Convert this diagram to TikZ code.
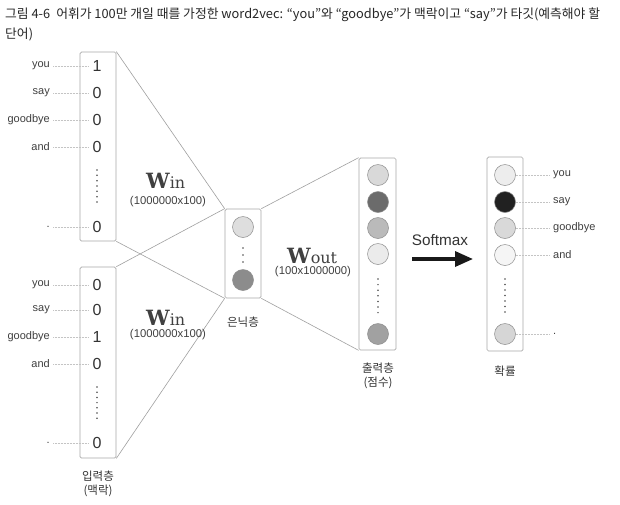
\documentclass[tikz,border=0pt]{standalone}
\usepackage{fontspec}
\setmainfont{Liberation Sans}
\newfontfamily\krfont{Noto Sans CJK KR}
\newfontfamily\wfont{DejaVu Serif}
\usetikzlibrary{arrows.meta}
\definecolor{boxline}{HTML}{A8A8A8}
\definecolor{conline}{HTML}{A0A0A0}
\definecolor{dotline}{HTML}{C4C4C4}
\tikzset{
  vecbox/.style={draw=boxline, line width=0.7pt, rounded corners=1.5pt, inner sep=0pt},
  conn/.style={draw=conline, line width=0.6pt},
  guide/.style={draw=dotline, line width=0.5pt, densely dotted},
  num/.style={font=\fontsize{16}{16}\selectfont, text=black!80, inner sep=0pt},
  wlab/.style={font=\fontsize{11}{11}\selectfont, text=black!75, inner sep=1pt},
  dimlab/.style={font=\fontsize{11.3}{11}\selectfont, text=black!75, inner sep=0pt},
  krlab/.style={font=\krfont\fontsize{11.5}{13.5}\selectfont, text=black!80, inner sep=0pt, align=center},
  neuron/.style={circle, draw=black!45, line width=0.5pt, minimum size=21pt, inner sep=0pt},
  wnode/.style={inner sep=0pt, anchor=base west, text=black!75},
  dotc/.style={fill=black!70}
}
\newcommand{\wmat}[1]{{\wfont\bfseries\fontsize{21}{21}\selectfont W}{\wfont\fontsize{16}{16}\selectfont #1}}
\begin{document}
\begin{tikzpicture}[x=1pt,y=-1pt]
\useasboundingbox[fill=white] (0,0) rectangle (620,504);

% title
\node[anchor=west, font=\krfont\fontsize{12.8}{14}\selectfont, text=black!85, inner sep=0pt] (title1) at (5,15) {그림 4-6\hspace{6pt}어휘가 100만 개일 때를 가정한 word2vec: “you”와 “goodbye”가 맥락이고 “say”가 타깃(예측해야 할};
\node[anchor=west, font=\krfont\fontsize{12.8}{14}\selectfont, text=black!85, inner sep=0pt] (title2) at (5,34) {단어)};

% boxes
\node[vecbox, minimum width=36pt, minimum height=189pt] (inA) at (98,146.5) {};
\node[vecbox, minimum width=36pt, minimum height=191pt] (inB) at (98,362.5) {};
\node[vecbox, minimum width=36pt, minimum height=89pt] (hid) at (243,253.5) {};
\node[vecbox, minimum width=37pt, minimum height=192pt] (outp) at (377.5,254) {};
\node[vecbox, minimum width=36pt, minimum height=194pt] (prob) at (505,254) {};

% connectors
\draw[conn] (inA.north east) -- (hid.north west);
\draw[conn] (inA.south east) -- (hid.south west);
\draw[conn] (inB.north east) -- (hid.north west);
\draw[conn] (inB.south east) -- (hid.south west);
\draw[conn] (hid.north east) -- (outp.north west);
\draw[conn] (hid.south east) -- (outp.south west);

% input A
\node[num] (a1) at (97,66) {1};
\node[num] (a2) at (97,93) {0};
\node[num] (a3) at (97,120) {0};
\node[num] (a4) at (97,147) {0};
\node[num] (a5) at (97,227) {0};
\node[wlab, anchor=east] (la1) at (51,66) {you};
\node[wlab, anchor=east] (la2) at (51,93) {say};
\node[wlab, anchor=east] (la3) at (51,120) {goodbye};
\node[wlab, anchor=east] (la4) at (51,147) {and};
\node[wlab, anchor=east] (la5) at (51,227) {.};
\foreach \i in {1,...,5} {\draw[guide] ([xshift=2pt]la\i.east |- a\i) -- ([xshift=-4pt]a\i.west);}
\foreach \k in {0,...,6} {\fill[dotc] (97,170+\k*5.33) circle (0.85pt);}

% input B
\node[num] (b1) at (97,285) {0};
\node[num] (b2) at (97,310) {0};
\node[num] (b3) at (97,337) {1};
\node[num] (b4) at (97,364) {0};
\node[num] (b5) at (97,443) {0};
\node[wlab, anchor=east] (lb1) at (51,285) {you};
\node[wlab, anchor=east] (lb2) at (51,310) {say};
\node[wlab, anchor=east] (lb3) at (51,337) {goodbye};
\node[wlab, anchor=east] (lb4) at (51,364) {and};
\node[wlab, anchor=east] (lb5) at (51,443) {.};
\foreach \i in {1,...,5} {\draw[guide] ([xshift=2pt]lb\i.east |- b\i) -- ([xshift=-4pt]b\i.west);}
\foreach \k in {0,...,6} {\fill[dotc] (97,387+\k*5.2) circle (0.85pt);}
\node[krlab] (inlab) at (98,484) {입력층\\(맥락)};

% hidden
\node[neuron, fill=black!13] (h1) at (243,227) {};
\node[neuron, fill=black!45] (h2) at (243,280) {};
\foreach \k in {0,...,2} {\fill[dotc] (243,248+\k*7) circle (0.85pt);}
\node[krlab] (hidlab) at (243,322) {은닉층};

% weights
\node[wnode] (wA) at (146,188) {\wmat{in}};
\node[dimlab] (wAd) at (168,202) {(1000000x100)};
\node[wnode] (wB) at (146,325) {\wmat{in}};
\node[dimlab] (wBd) at (168,335) {(1000000x100)};
\node[wnode] (wO) at (287,263) {\wmat{out}};
\node[dimlab] (wOd) at (313,272) {(100x1000000)};

% output scores
\node[neuron, fill=black!15] (o1) at (378,175) {};
\node[neuron, fill=black!58] (o2) at (378,202) {};
\node[neuron, fill=black!27] (o3) at (378,228) {};
\node[neuron, fill=black!8] (o4) at (378,254) {};
\node[neuron, fill=black!37] (o5) at (378,334) {};
\foreach \k in {0,...,6} {\fill[dotc] (378,279+\k*5.6) circle (0.85pt);}
\node[krlab] (outlab) at (378,376) {출력층\\(점수)};

% softmax
\node[font=\fontsize{15.3}{15}\selectfont, text=black!80, inner sep=0pt] (smx) at (440,240) {Softmax};
\coordinate (sa) at (412,259);
\coordinate (sb) at (473,259);
\draw[line width=3.3pt, black!90, -{Triangle[length=18pt,width=15pt]}] (sa) -- (sb);

% probabilities
\node[neuron, fill=black!7] (p1) at (505,175) {};
\node[neuron, fill=black!87] (p2) at (505,202) {};
\node[neuron, fill=black!15] (p3) at (505,228) {};
\node[neuron, fill=black!4] (p4) at (505,255) {};
\node[neuron, fill=black!16] (p5) at (505,334) {};
\foreach \k in {0,...,6} {\fill[dotc] (505,279+\k*5.5) circle (0.85pt);}
\node[wlab, anchor=west] (q1) at (552,175) {you};
\node[wlab, anchor=west] (q2) at (552,202) {say};
\node[wlab, anchor=west] (q3) at (552,228) {goodbye};
\node[wlab, anchor=west] (q4) at (552,255) {and};
\node[wlab, anchor=west] (q5) at (552,334) {.};
\foreach \i in {1,...,5} {\draw[guide] (p\i.east) -- ([xshift=-2pt]q\i.west |- p\i);}
\node[krlab] (problab) at (505,371) {확률};
\end{tikzpicture}
\end{document}
